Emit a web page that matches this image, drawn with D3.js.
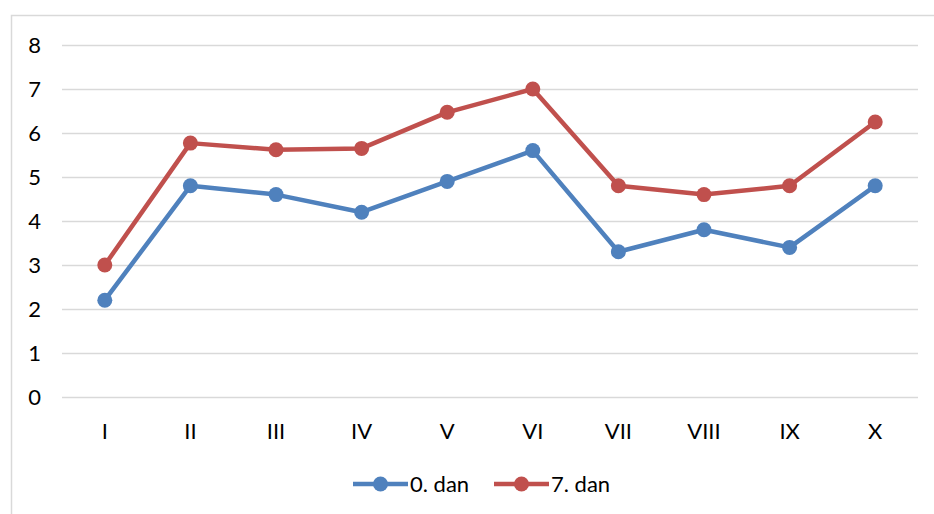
<!DOCTYPE html>
<html>
<head>
<meta charset="utf-8">
<script src="https://cdn.jsdelivr.net/npm/d3@7"></script>
<style>
  body { margin: 0; background: #fff; }
  svg { display: block; font-family: Lato, "Open Sans", sans-serif; }
</style>
</head>
<body>
<svg id="chart"></svg>
<script>
const categories = ['I', 'II', 'III', 'IV', 'V', 'VI', 'VII', 'VIII', 'IX', 'X'];
const day0 = [2.2, 4.8, 4.6, 4.2, 4.9, 5.6, 3.3, 3.8, 3.4, 4.8];
const day7 = [3.0, 5.77, 5.62, 5.65, 6.47, 7.0, 4.8, 4.6, 4.8, 6.25];
const yTicks = [0, 1, 2, 3, 4, 5, 6, 7, 8];

const series = [
    { name: '0. dan', values: day0, color: '#4f81bd' },
    { name: '7. dan', values: day7, color: '#c0504d' }
];

const width = 934, height = 514;
const margin = { top: 45, right: 16, bottom: 117, left: 62 };
const fontSize = '22px';

const svg = d3.select('#chart')
    .attr('width', width)
    .attr('height', height);

// outer frame: only its top and left edges fall inside the picture
svg.append('path')
    .attr('d', `M11.5,${height} V15.5 H${width}`)
    .attr('fill', 'none')
    .attr('stroke', '#d9d9d9')
    .attr('stroke-width', 1.5);

const innerWidth = width - margin.left - margin.right;
const innerHeight = height - margin.top - margin.bottom;

const chart = svg.append('g')
    .attr('transform', `translate(${margin.left}, ${margin.top})`);

const xscale = d3.scaleBand()
    .domain(categories)
    .range([0, innerWidth]);

const yscale = d3.scaleLinear()
    .domain([0, 8])
    .range([innerHeight, 0]);

// gridlines + y labels
const yaxis = d3.axisLeft(yscale)
    .tickValues(yTicks)
    .tickSize(-innerWidth)
    .tickPadding(21)
    .tickFormat(d3.format('d'));

chart.append('g')
    .call(yaxis)
    .call(g => g.select('.domain').remove())
    .call(g => g.selectAll('.tick line')
        .attr('stroke', '#d9d9d9')
        .attr('stroke-width', 1.5))
    .call(g => g.selectAll('.tick text')
        .attr('fill', '#000')
        .attr('font-size', fontSize)
        .attr('font-family', 'Lato, "Open Sans", sans-serif'));

const xaxis = d3.axisBottom(xscale)
    .tickSize(0)
    .tickPadding(26);

chart.append('g')
    .attr('transform', `translate(0, ${innerHeight})`)
    .call(xaxis)
    .call(g => g.select('.domain').remove())
    .call(g => g.selectAll('.tick text')
        .attr('fill', '#000')
        .attr('font-size', fontSize)
        .attr('font-family', 'Lato, "Open Sans", sans-serif'));

const line = d3.line()
    .x((d, i) => xscale(categories[i]) + xscale.bandwidth() / 2)
    .y(d => yscale(d));

series.forEach(s => {
    chart.append('path')
        .datum(s.values)
        .attr('fill', 'none')
        .attr('stroke', s.color)
        .attr('stroke-width', 4.5)
        .attr('stroke-linejoin', 'round')
        .attr('d', line);

    chart.selectAll(null)
        .data(s.values)
        .enter()
        .append('circle')
        .attr('cx', (d, i) => xscale(categories[i]) + xscale.bandwidth() / 2)
        .attr('cy', d => yscale(d))
        .attr('r', 7.5)
        .attr('fill', s.color);
});

// legend
const legend = svg.append('g')
    .attr('transform', 'translate(353, 484)');

const legendOffsets = [0, 141];
series.forEach((s, i) => {
    const item = legend.append('g')
        .attr('transform', `translate(${legendOffsets[i]}, 0)`);
    item.append('line')
        .attr('x1', 0).attr('x2', 55)
        .attr('y1', 0).attr('y2', 0)
        .attr('stroke', s.color)
        .attr('stroke-width', 4.5);
    item.append('circle')
        .attr('cx', 27.5)
        .attr('cy', 0)
        .attr('r', 7.5)
        .attr('fill', s.color);
    item.append('text')
        .attr('x', 57)
        .attr('y', 0)
        .attr('dy', '0.35em')
        .attr('font-size', fontSize)
        .text(s.name);
});
</script>
</body>
</html>
